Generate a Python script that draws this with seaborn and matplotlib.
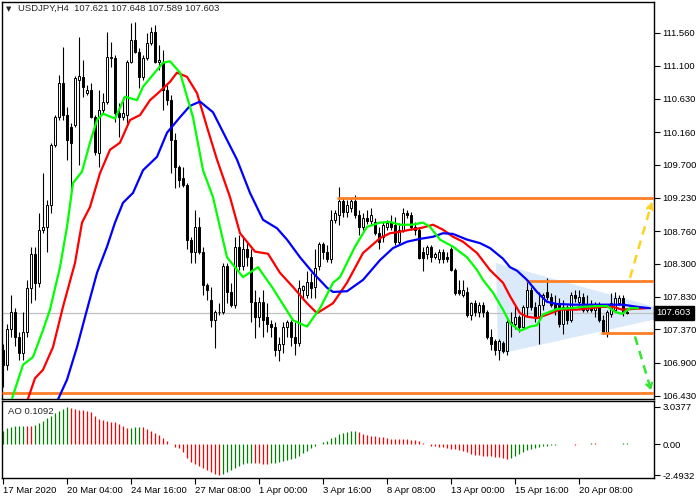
import matplotlib
matplotlib.use("Agg")
import matplotlib.pyplot as plt
import matplotlib.transforms as mtransforms
import seaborn as sns

# USDJPY H4 candles, 17 Mar - 22 Apr 2020
opens = [107.08, 106.87, 107.37, 107.62, 107.27, 107.04, 107.33, 107.96, 108.43, 108.03,
         108.78, 108.82, 109.13, 109.98, 110.37, 110.85, 110.40, 110.23, 110.26, 110.90,
         110.94, 110.71, 110.75, 110.37, 109.86, 110.47, 110.58, 111.21, 111.21, 110.43,
         110.37, 110.40, 111.15, 111.46, 111.29, 110.94, 111.21, 111.42, 111.57, 111.15,
         111.15, 110.75, 110.61, 110.05, 109.67, 109.51, 109.41, 108.64, 108.46, 108.82,
         108.47, 108.00, 107.79, 107.51, 107.61, 107.62, 108.26, 107.90, 107.72, 108.53,
         108.26, 108.50, 108.40, 107.76, 107.54, 107.76, 107.54, 107.44, 107.40, 107.08,
         107.16, 107.41, 107.48, 107.27, 107.18, 107.93, 107.85, 108.04, 107.97, 108.26,
         108.58, 108.47, 108.36, 108.92, 108.99, 109.19, 109.03, 109.09, 109.19, 108.99,
         108.82, 108.95, 108.90, 108.89, 108.74, 108.67, 108.82, 108.89, 108.85, 108.61,
         108.78, 109.02, 108.99, 108.82, 108.78, 108.46, 108.43, 108.54, 108.40, 108.36,
         108.46, 108.40, 108.50, 108.21, 107.93, 107.86, 107.90, 107.58, 107.75, 107.62,
         107.72, 107.62, 107.27, 107.21, 107.08, 107.18, 107.07, 107.47, 107.44, 107.55,
         107.40, 107.69, 107.93, 107.69, 107.54, 107.72, 107.90, 107.83, 107.75, 107.75,
         107.44, 107.69, 107.51, 107.86, 107.76, 107.83, 107.65, 107.72, 107.65, 107.72,
         107.51, 107.34, 107.59, 107.65, 107.75, 107.82, 107.621]
highs = [107.16, 107.44, 107.86, 107.68, 107.33, 107.61, 108.07, 108.54, 108.54, 109.02,
         109.58, 109.20, 110.01, 110.40, 110.97, 111.36, 110.51, 110.29, 110.95, 111.50,
         111.18, 110.83, 110.85, 110.40, 110.75, 110.71, 111.57, 111.43, 111.25, 110.57,
         110.66, 111.18, 111.70, 111.72, 111.35, 111.25, 111.56, 111.64, 111.67, 111.39,
         111.32, 110.83, 110.68, 110.15, 109.69, 109.67, 109.44, 108.68, 109.06, 108.96,
         108.54, 108.03, 107.97, 107.65, 107.75, 108.31, 108.31, 108.03, 108.68, 108.71,
         108.68, 108.60, 108.50, 107.93, 107.83, 107.93, 107.75, 107.51, 107.47, 107.27,
         107.47, 107.51, 107.51, 107.47, 108.07, 108.00, 108.19, 108.17, 108.50, 108.61,
         108.61, 108.57, 109.06, 109.06, 109.38, 109.24, 109.20, 109.23, 109.27, 109.06,
         109.02, 109.06, 109.09, 108.95, 108.82, 108.89, 108.92, 108.99, 108.96, 108.88,
         109.09, 109.06, 109.03, 108.89, 108.82, 108.54, 108.57, 108.57, 108.46, 108.50,
         108.50, 108.46, 108.53, 108.24, 108.07, 108.07, 107.97, 107.76, 107.79, 107.76,
         107.76, 107.65, 107.37, 107.23, 107.23, 107.21, 107.51, 107.61, 107.72, 107.58,
         107.72, 108.04, 107.97, 107.76, 107.90, 107.89, 108.10, 107.89, 107.86, 107.82,
         107.79, 107.72, 107.90, 107.93, 107.93, 107.89, 107.86, 107.79, 107.76, 107.76,
         107.58, 107.65, 107.89, 107.90, 107.86, 107.85, 107.648]
lows = [106.56, 106.80, 107.27, 107.13, 106.94, 106.94, 107.27, 107.75, 107.79, 107.97,
        108.74, 108.46, 109.02, 109.95, 110.33, 110.33, 109.77, 109.31, 110.23, 109.69,
        110.66, 110.68, 110.36, 109.84, 109.67, 110.43, 110.56, 111.08, 110.30, 110.09,
        110.33, 110.29, 111.14, 111.28, 110.78, 110.90, 111.18, 111.39, 111.14, 111.04,
        110.47, 110.54, 109.58, 109.37, 109.38, 109.38, 108.50, 108.31, 108.31, 108.43,
        107.86, 107.79, 107.41, 107.11, 107.58, 107.59, 107.75, 107.69, 107.68, 108.21,
        108.21, 108.26, 107.47, 107.25, 107.41, 107.27, 107.33, 107.27, 106.99, 106.92,
        107.04, 107.27, 107.13, 107.01, 107.13, 107.79, 107.82, 107.82, 107.82, 108.21,
        108.36, 108.33, 108.31, 108.88, 108.85, 108.96, 108.96, 109.03, 108.95, 108.71,
        108.78, 108.86, 108.86, 108.71, 108.50, 108.60, 108.78, 108.78, 108.57, 108.57,
        108.75, 108.95, 108.78, 108.71, 108.36, 108.19, 108.36, 108.33, 108.36, 108.31,
        108.31, 108.33, 108.19, 107.86, 107.85, 107.83, 107.55, 107.51, 107.56, 107.54,
        107.55, 107.23, 107.08, 107.01, 106.94, 107.04, 107.01, 107.27, 107.37, 107.34,
        107.37, 107.54, 107.65, 107.48, 107.16, 107.65, 107.79, 107.69, 107.58, 107.41,
        107.30, 107.44, 107.47, 107.76, 107.72, 107.61, 107.61, 107.61, 107.55, 107.48,
        107.30, 107.27, 107.54, 107.61, 107.71, 107.56, 107.589]
closes = [106.87, 107.37, 107.62, 107.27, 107.04, 107.33, 107.96, 108.43, 108.03, 108.78,
          108.82, 109.13, 109.98, 110.37, 110.85, 110.40, 110.05, 110.01, 110.92, 110.95,
          110.80, 110.75, 110.37, 109.88, 110.47, 110.58, 111.22, 111.22, 110.43, 110.37,
          110.43, 111.15, 111.46, 111.29, 110.94, 111.21, 111.42, 111.57, 111.15, 111.18,
          110.75, 110.61, 110.05, 109.67, 109.48, 109.41, 108.64, 108.46, 108.82, 108.47,
          108.00, 107.93, 107.51, 107.61, 107.62, 108.26, 107.90, 107.72, 108.53, 108.26,
          108.50, 108.40, 107.76, 107.54, 107.76, 107.51, 107.44, 107.40, 107.08, 107.16,
          107.41, 107.48, 107.27, 107.18, 107.96, 107.99, 108.04, 107.96, 108.24, 108.58,
          108.47, 108.36, 108.92, 109.02, 109.19, 109.03, 109.13, 109.19, 108.99, 108.82,
          108.95, 108.90, 108.99, 108.74, 108.61, 108.85, 108.88, 108.82, 108.60, 108.78,
          109.02, 108.99, 108.82, 108.78, 108.38, 108.38, 108.54, 108.40, 108.43, 108.47,
          108.36, 108.36, 108.21, 107.89, 107.89, 107.93, 107.58, 107.75, 107.62, 107.72,
          107.62, 107.27, 107.16, 107.08, 107.21, 107.07, 107.47, 107.44, 107.55, 107.40,
          107.69, 107.93, 107.69, 107.54, 107.72, 107.85, 107.83, 107.72, 107.65, 107.44,
          107.69, 107.51, 107.86, 107.82, 107.83, 107.65, 107.72, 107.65, 107.72, 107.51,
          107.34, 107.62, 107.75, 107.82, 107.82, 107.62, 107.603]

# Alligator lines (bar position, price)
lips_x = [2, 5, 7.5, 10, 11.75, 14.25, 16, 17.5, 19.75, 21.75, 23.5, 25, 28, 30.5, 33.5,
          35, 37.5, 40, 41.75, 44.25, 47.5, 50, 52.5, 56, 60, 63.75, 67.25, 72.5, 76, 79.25,
          82.5, 84.25, 88, 91, 94.25, 96.75, 99.25, 102.25, 105, 106.75, 109.25, 112.5, 116,
          118.5, 120, 122.5, 125, 126.75, 129.25, 131.75, 133.5, 135, 138.5, 141.75, 145,
          148.5, 151, 153, 154.75, 156.75, 158.75]
lips_y = [106.35, 106.87, 106.98, 107.36, 107.65, 108.25, 108.82, 109.44, 109.60, 110.01,
          110.33, 110.42, 110.35, 110.66, 110.61, 110.80, 110.97, 111.14, 111.16, 111.00,
          110.37, 109.62, 109.24, 108.39, 108.11, 108.25, 107.97, 107.50, 107.41, 107.67,
          108.03, 108.11, 108.54, 108.82, 108.88, 108.89, 108.85, 108.85, 108.88, 108.82,
          108.64, 108.54, 108.39, 108.21, 108.07, 107.89, 107.65, 107.46, 107.35, 107.41,
          107.43, 107.58, 107.66, 107.67, 107.69, 107.70, 107.70, 107.62, 107.59, 107.67,
          107.67]
teeth_x = [6, 8, 10, 12.5, 15, 18, 19.75, 21.75, 24.25, 26.75, 29.25, 31.75, 34.25, 36.75,
           38.75, 41.75, 43.5, 46, 48.5, 51, 53.5, 56.75, 59.25, 63, 66.25, 69.25, 72.5, 76,
           78.5, 82.5, 86, 90, 94.25, 96.75, 99.25, 101.75, 104.25, 107.5, 110, 112.5, 115,
           118.5, 121.75, 125, 126.75, 129.25, 131, 133.5, 136, 139.25, 143.5, 146.75, 150,
           152.5, 154.75, 157.5, 161]
teeth_y = [106.35, 106.68, 106.80, 107.12, 107.69, 108.31, 108.88, 109.10, 109.58, 109.91,
           110.01, 110.33, 110.40, 110.61, 110.71, 110.87, 111.00, 110.94, 110.71, 110.23,
           109.77, 109.24, 108.73, 108.47, 108.44, 108.17, 107.97, 107.74, 107.60, 107.74,
           108.03, 108.45, 108.66, 108.73, 108.75, 108.78, 108.80, 108.85, 108.78, 108.68,
           108.61, 108.45, 108.21, 108.03, 107.84, 107.60, 107.55, 107.53, 107.58, 107.65,
           107.65, 107.67, 107.69, 107.69, 107.65, 107.66, 107.67]
jaw_x = [13.5, 16, 18.5, 21, 23.5, 26, 28, 30, 32.5, 35, 38.5, 41, 44.25, 46.75, 49.25,
         52.5, 55, 58.5, 61.75, 65, 68.5, 71, 74.25, 77.5, 81, 82.5, 86, 90, 94.25, 97.5,
         101, 104.25, 107.5, 110, 112.5, 116, 119.25, 121.75, 125, 126.75, 128.5, 131,
         133.5, 136, 138.5, 142.5, 146.75, 151, 155, 158.5, 161.75]
jaw_y = [106.35, 106.66, 107.12, 107.65, 108.17, 108.54, 108.88, 109.16, 109.30, 109.62,
         109.81, 110.15, 110.37, 110.53, 110.59, 110.44, 110.16, 109.77, 109.30, 108.92,
         108.80, 108.64, 108.39, 108.17, 107.96, 107.90, 107.91, 108.07, 108.35, 108.52,
         108.61, 108.65, 108.68, 108.73, 108.72, 108.64, 108.59, 108.52, 108.37, 108.25,
         108.20, 108.07, 107.90, 107.76, 107.73, 107.72, 107.72, 107.72, 107.72, 107.69,
         107.67]

# Awesome Oscillator
ao_values = [1.08, 1.30, 1.40, 1.48, 1.50, 1.51, 1.49, 1.47, 1.55, 1.70,
             1.89, 2.11, 2.29, 2.51, 2.70, 2.86, 3.0377, 2.92, 2.86, 2.81,
             2.76, 2.70, 2.59, 2.32, 2.05, 1.97, 1.92, 1.84, 1.78, 1.67,
             1.51, 1.32, 1.35, 1.38, 1.40, 1.38, 1.21, 1.08, 0.89, 0.76,
             0.54, 0.27, 0.05, -0.19, -0.32, -0.65, -1.08, -1.40, -1.62, -1.78,
             -1.94, -2.11, -2.27, -2.40, -2.4932, -2.43, -2.27, -2.08, -1.89, -1.73,
             -1.59, -1.54, -1.48, -1.51, -1.54, -1.57, -1.58, -1.54, -1.48, -1.40,
             -1.35, -1.30, -1.21, -1.13, -0.94, -0.73, -0.51, -0.27, -0.10, 0.03,
             0.19, 0.30, 0.49, 0.62, 0.81, 0.89, 0.97, 1.08, 1.11, 0.97,
             0.84, 0.76, 0.67, 0.65, 0.62, 0.57, 0.51, 0.46, 0.43, 0.42,
             0.40, 0.39, 0.38, 0.35, 0.27, 0.13, 0.01, -0.11, -0.16, -0.22,
             -0.24, -0.30, -0.35, -0.40, -0.46, -0.54, -0.65, -0.78, -0.86, -0.89,
             -0.92, -0.93, -0.94, -1.00, -1.05, -1.11, -1.16, -1.08, -0.92, -0.76,
             -0.59, -0.46, -0.35, -0.27, -0.19, -0.13, -0.11, -0.08, -0.04, 0.02,
             0.01, 0.00, -0.01, -0.02, 0.00, 0.03, 0.06, 0.08, 0.07, 0.05,
             0.03, 0.02, 0.01, 0.02, 0.04, 0.08, 0.1092]

# drawn objects
level_prices = [109.225, 108.055, 107.316, 106.465]
level_starts = [83.6, 130.8, 149.5, -0.25]
tri_x = [123.25, 123.75, 169.25]
tri_y = [108.31, 107.02, 107.59]
up_arrow = [(156.75, 108.10), (162.2, 109.16)]
down_arrow = [(158.0, 107.27), (162.0, 106.515)]

price_ticks = [111.56, 111.10, 110.63, 110.16, 109.70, 109.23, 108.76, 108.30,
               107.83, 107.37, 106.90, 106.43]
ao_ticks = [3.0377, 0.0, -2.4932]
ao_tick_labels = ["3.0377", "0.00", "-2.4932"]
x_ticks = [0, 16, 32, 48, 64, 80, 96, 112, 128, 144]
x_labels = ["17 Mar 2020", "20 Mar 04:00", "24 Mar 16:00", "27 Mar 08:00", "1 Apr 00:00",
            "3 Apr 16:00", "8 Apr 08:00", "13 Apr 00:00", "15 Apr 16:00", "20 Apr 08:00"]
last_price = 107.603

sns.set_style("white")
plt.rcParams["font.family"] = ["Liberation Sans", "DejaVu Sans"]
plt.rcParams["font.size"] = 6.8

W, H = 700, 500
fig = plt.figure(figsize=(7, 5), dpi=100)
ax = fig.add_axes([2 / W, 1 - 399 / H, 652 / W, 397 / H])
ax_ao = fig.add_axes([2 / W, 1 - 478 / H, 652 / W, 77 / H])
x_lo, x_hi = -0.25, 162.75

# triangle + levels
ax.fill(tri_x, tri_y, color="#dbeafa", lw=0, zorder=0.5)
ax.axhline(last_price, color="#c0c0c0", lw=0.9, zorder=1)

# candles
idx = list(range(len(closes)))
ax.vlines(idx, lows, highs, color="black", lw=0.8, zorder=2)
body_bottom = [min(o, c) for o, c in zip(opens, closes)]
body_h = [max(abs(c - o), 0.004) for o, c in zip(opens, closes)]
body_col = ["white" if c >= o else "black" for o, c in zip(opens, closes)]
ax.bar(idx, body_h, bottom=body_bottom, width=0.55, color=body_col,
       edgecolor="black", linewidth=0.7, zorder=3)

for p, s in zip(level_prices, level_starts):
    ax.hlines(p, s, x_hi, color="#ff7f27", lw=2, zorder=4)

# alligator
sns.lineplot(x=lips_x, y=lips_y, ax=ax, color="#00ff00", lw=1.6, sort=False, estimator=None, zorder=6)
sns.lineplot(x=teeth_x, y=teeth_y, ax=ax, color="#ff0000", lw=1.6, sort=False, estimator=None, zorder=5)
sns.lineplot(x=jaw_x, y=jaw_y, ax=ax, color="#0000ff", lw=1.6, sort=False, estimator=None, zorder=5)

# dashed arrows
for (a, b), col in [(up_arrow, "#ffd21f"), (down_arrow, "#33e633")]:
    ax.plot([a[0], b[0]], [a[1], b[1]], color=col, lw=1.8, ls=(0, (3.5, 2.5)), zorder=7)
    back = (b[0] - (b[0] - a[0]) * 0.08, b[1] - (b[1] - a[1]) * 0.08)
    ax.annotate("", xy=b, xytext=back,
                arrowprops=dict(arrowstyle="->,head_length=0.45,head_width=0.3",
                                color=col, lw=1.8, shrinkA=0, shrinkB=0), zorder=7)

ax.set_xlim(x_lo, x_hi)
ax.set_ylim(106.387, 111.998)
ax.set_xlabel("")
ax.set_ylabel("")
ax.yaxis.tick_right()
ax.set_yticks(price_ticks)
ax.set_yticklabels([f"{t:.3f}" for t in price_ticks])
ax.tick_params(axis="y", right=True, left=False, direction="out", length=4, width=0.8,
               pad=2, labelsize=6.8, colors="black")
ax.tick_params(axis="x", bottom=False, labelbottom=False)
for sp in ax.spines.values():
    sp.set_color("black")
    sp.set_linewidth(1)

trans = mtransforms.blended_transform_factory(ax.transAxes, ax.transData)
ax.text(1.004, last_price, "107.603", transform=trans, color="white", fontsize=6.8,
        va="center", ha="left", clip_on=False, zorder=10,
        bbox=dict(boxstyle="square,pad=0.3", fc="black", ec="black"))
ax.text(0.006, 0.983, "\u25bc", transform=ax.transAxes, fontsize=5, va="center",
        family="DejaVu Sans")
ax.text(0.025, 0.983, "USDJPY,H4  107.621 107.648 107.589 107.603", transform=ax.transAxes,
        fontsize=6.8, va="center")

# AO panel
ao_cols = ["#008000" if k == 0 or ao_values[k] > ao_values[k - 1] else "#ff0000"
           for k in range(len(ao_values))]
ax_ao.vlines(idx, 0, ao_values, colors=ao_cols, lw=0.9)
ax_ao.set_xlim(x_lo, x_hi)
ax_ao.set_ylim(-2.729, 3.506)
ax_ao.yaxis.tick_right()
ax_ao.set_yticks(ao_ticks)
ax_ao.set_yticklabels(ao_tick_labels)
ax_ao.set_xticks(x_ticks)
ax_ao.set_xticklabels(x_labels, ha="left")
ax_ao.tick_params(axis="y", right=True, left=False, direction="out", length=4, width=0.8,
                  pad=2, labelsize=6.8, colors="black")
ax_ao.tick_params(axis="x", bottom=True, direction="out", length=4, width=0.8, pad=1.5,
                  labelsize=6.8, colors="black")
for sp in ax_ao.spines.values():
    sp.set_color("black")
    sp.set_linewidth(1)
ax_ao.text(0.009, 0.87, "AO 0.1092", transform=ax_ao.transAxes, fontsize=6.8, va="center")

fig.savefig("out.png", dpi=100)
